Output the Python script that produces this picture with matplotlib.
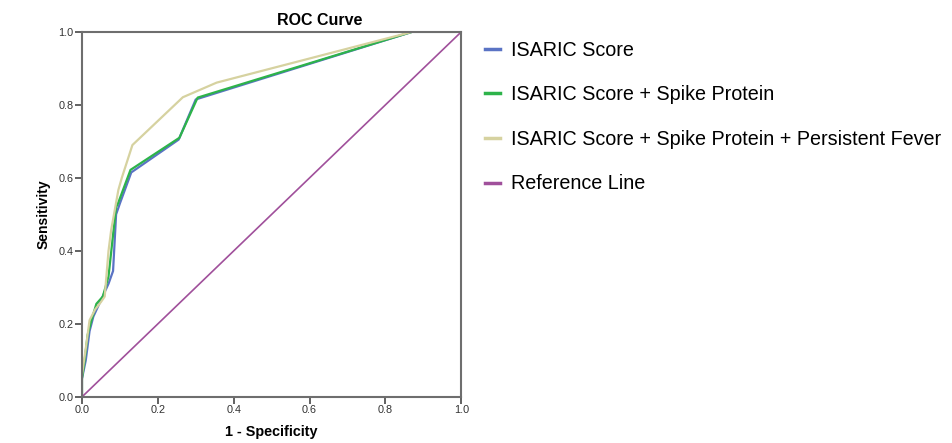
import numpy as np
import matplotlib.pyplot as plt

plt.rcParams['font.family'] = ['Liberation Sans', 'DejaVu Sans']

# ROC points (1 - specificity, sensitivity)
isaric_fpr = [0, 0, 0.01, 0.02, 0.03, 0.05, 0.07, 0.082, 0.09, 0.10, 0.13, 0.255, 0.30, 0.87, 1.0]
isaric_tpr = [0, 0.05, 0.10, 0.18, 0.22, 0.265, 0.31, 0.345, 0.50, 0.53, 0.615, 0.705, 0.815, 1.0, 1.0]

spike_fpr = [0, 0, 0.007, 0.015, 0.025, 0.038, 0.055, 0.07, 0.09, 0.095, 0.128, 0.257, 0.305, 0.87, 1.0]
spike_tpr = [0, 0.05, 0.10, 0.17, 0.21, 0.255, 0.275, 0.33, 0.52, 0.53, 0.622, 0.71, 0.82, 1.0, 1.0]

fever_fpr = [0, 0, 0.011, 0.02, 0.035, 0.05, 0.06, 0.07, 0.077, 0.096, 0.105, 0.133, 0.266, 0.355, 0.87, 1.0]
fever_tpr = [0, 0.06, 0.14, 0.21, 0.24, 0.26, 0.275, 0.40, 0.457, 0.567, 0.60, 0.69, 0.821, 0.861, 1.0, 1.0]

ref_x = [0, 1]
ref_y = [0, 1]

labels = ['ISARIC Score', 'ISARIC Score + Spike Protein',
          'ISARIC Score + Spike Protein + Persistent Fever', 'Reference Line']
colors = ['#5a73c4', '#2db34a', '#d6d2a0', '#a0509b']

fig = plt.figure(figsize=(9.53, 4.43), dpi=100)
ax = fig.add_axes([0.086, 0.104, 0.398, 0.824])

ax.plot(isaric_fpr, isaric_tpr, color=colors[0], lw=1.6, label=labels[0])
ax.plot(spike_fpr, spike_tpr, color=colors[1], lw=1.6, label=labels[1])
ax.plot(fever_fpr, fever_tpr, color=colors[2], lw=1.6, label=labels[2])
ax.plot(ref_x, ref_y, color=colors[3], lw=1.2, label=labels[3])

ax.set_xlim(0, 1)
ax.set_ylim(0, 1)
ax.set_xticks(np.arange(0, 1.01, 0.2))
ax.set_yticks(np.arange(0, 1.01, 0.2))
ax.xaxis.set_major_formatter(plt.FormatStrFormatter('%.1f'))
ax.yaxis.set_major_formatter(plt.FormatStrFormatter('%.1f'))
ax.tick_params(labelsize=7.8, length=5, width=1.3, color='#555555', labelcolor='#333333', pad=1)
for s in ax.spines.values():
    s.set_color('#6e6e6e')
    s.set_linewidth(1.5)

# title sits a bit right of the plot centre in the original
fig.text(0.335, 0.943, 'ROC Curve', fontsize=11.5, fontweight='bold', ha='center', va='baseline')
ax.set_xlabel('1 - Specificity', fontsize=10.4, fontweight='bold', labelpad=7)
ax.set_ylabel('Sensitivity', fontsize=10, fontweight='bold', labelpad=6)

leg = ax.legend(loc='upper left', bbox_to_anchor=(1.017, 1.025), frameon=False,
                fontsize=14.2, handlelength=0.75, handletextpad=0.55, labelspacing=1.3)
for h in leg.get_lines():
    h.set_linewidth(2.5)

fig.savefig('out.png', dpi=100)
